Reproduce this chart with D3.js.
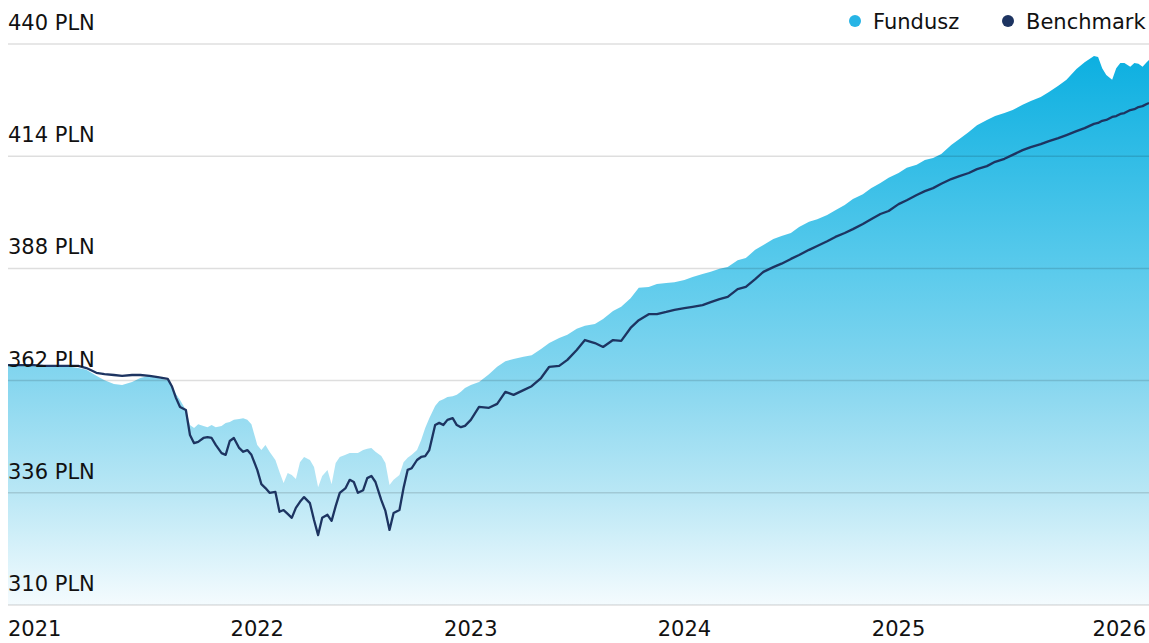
<!DOCTYPE html>
<html>
<head>
<meta charset="utf-8">
<script src="https://cdn.jsdelivr.net/npm/d3@7"></script>
<style>
  html, body { margin: 0; padding: 0; background: #fff; }
  svg { display: block; font-family: "DejaVu Sans", sans-serif; }
</style>
</head>
<body>
<svg id="chart"></svg>
<script>
const dates = [
  "2020-11-01","2020-11-15","2020-12-01","2020-12-15",
  "2021-01-01","2021-01-15","2021-02-01","2021-02-15","2021-03-01","2021-03-15",
  "2021-04-01","2021-04-15","2021-05-01","2021-05-15","2021-06-01","2021-06-15",
  "2021-07-01","2021-07-15",
  "2021-08-01","2021-08-08","2021-08-15","2021-08-22","2021-09-01","2021-09-08","2021-09-15","2021-09-22",
  "2021-10-01","2021-10-08","2021-10-15","2021-10-22","2021-11-01","2021-11-08","2021-11-15","2021-11-22",
  "2021-12-01","2021-12-08","2021-12-15","2021-12-22",
  "2022-01-01","2022-01-08","2022-01-15","2022-01-22","2022-02-01","2022-02-08","2022-02-15","2022-02-22",
  "2022-03-01","2022-03-08","2022-03-15","2022-03-22","2022-04-01","2022-04-08","2022-04-15","2022-04-22",
  "2022-05-01","2022-05-08","2022-05-15","2022-05-22","2022-06-01","2022-06-08","2022-06-15","2022-06-22",
  "2022-07-01","2022-07-08","2022-07-15","2022-07-22","2022-08-01","2022-08-08","2022-08-15","2022-08-22",
  "2022-09-01","2022-09-08","2022-09-15","2022-09-22","2022-10-01","2022-10-08","2022-10-15","2022-10-22",
  "2022-11-01","2022-11-08","2022-11-15","2022-11-22","2022-12-01","2022-12-08","2022-12-15","2022-12-22",
  "2023-01-01","2023-01-15","2023-02-01","2023-02-15","2023-03-01","2023-03-15","2023-04-01","2023-04-15",
  "2023-05-01","2023-05-15","2023-06-01","2023-06-15","2023-07-01","2023-07-15","2023-08-01","2023-08-15",
  "2023-09-01","2023-09-15","2023-10-01","2023-10-15","2023-11-01","2023-11-15","2023-12-01","2023-12-15",
  "2024-01-01","2024-01-15","2024-02-01","2024-02-15","2024-03-01","2024-03-15","2024-04-01","2024-04-15",
  "2024-05-01","2024-05-15","2024-06-01","2024-06-15","2024-07-01","2024-07-15","2024-08-01","2024-08-15",
  "2024-09-01","2024-09-15","2024-10-01","2024-10-15","2024-11-01","2024-11-15","2024-12-01","2024-12-15",
  "2025-01-01","2025-01-15","2025-02-01","2025-02-15","2025-03-01","2025-03-15","2025-04-01","2025-04-15",
  "2025-05-01","2025-05-15","2025-06-01","2025-06-15","2025-07-01","2025-07-15","2025-08-01","2025-08-15",
  "2025-09-01","2025-09-15","2025-10-01","2025-10-15","2025-11-01","2025-11-15",
  "2025-12-01","2025-12-08","2025-12-15","2025-12-22",
  "2026-01-01","2026-01-08","2026-01-15","2026-01-22","2026-02-01","2026-02-08","2026-02-15","2026-02-22",
  "2026-03-01","2026-03-05"
];

// Fundusz (area)
const fundusz = [
  365.6,365.6,365.4,365.4,
  365.2,365.2,365.2,365.2,364.9,364.5,
  363.1,362.1,361.2,361.0,361.7,362.6,
  363.1,362.6,
  362.1,360.7,358.9,357.5,355.2,351.7,351.0,351.9,
  351.5,351.2,351.7,351.2,351.5,352.2,352.4,352.9,
  353.1,353.3,352.9,351.9,
  347.1,345.9,347.1,345.5,343.6,340.8,338.3,340.6,
  340.1,339.2,343.1,344.3,343.6,342.0,337.3,339.9,
  341.3,338.0,342.9,344.3,344.8,345.2,345.2,345.2,
  345.9,346.2,346.4,345.5,344.5,342.9,337.8,339.0,
  340.1,343.1,344.1,344.8,345.9,348.2,351.0,353.3,
  356.1,357.3,357.7,358.2,358.4,358.7,359.4,360.3,
  361.0,361.7,363.5,365.2,366.5,367.0,367.5,367.9,
  369.3,370.7,371.9,372.6,374.0,374.7,375.1,376.3,
  378.1,379.1,381.1,383.5,383.7,384.4,384.6,384.8,
  385.3,386.0,386.7,387.2,387.9,388.3,389.9,390.4,
  392.3,393.4,394.8,395.5,396.2,397.6,398.8,399.4,
  400.4,401.5,402.7,404.1,405.2,406.6,407.8,409.0,
  410.1,411.3,412.0,413.1,413.6,414.5,416.6,418.0,
  419.6,421.2,422.4,423.3,424.0,424.7,425.9,426.8,
  427.7,428.9,430.3,431.7,434.2,435.8,
  437.2,437.0,434.4,432.8,
  431.7,434.4,435.6,435.6,434.7,435.6,435.4,434.7,
  435.8,436.3
];

// Benchmark (line)
const benchmark = [
  365.6,365.6,365.6,365.6,
  365.4,365.4,365.4,365.4,365.4,364.9,
  363.8,363.5,363.3,363.1,363.3,363.3,
  363.1,362.8,
  362.4,360.7,358.0,355.9,355.2,349.4,347.5,347.8,
  348.7,348.9,348.7,347.1,345.2,344.8,348.0,348.7,
  346.4,345.5,345.9,344.8,
  341.3,338.0,337.1,336.0,336.2,331.6,332.0,331.1,
  330.2,332.5,333.9,335.0,333.6,329.7,326.2,330.2,
  330.9,329.5,332.9,336.0,337.1,339.0,338.5,336.0,
  336.6,339.4,339.9,338.5,334.3,331.8,327.4,331.3,
  332.0,337.1,341.3,341.7,343.6,344.3,344.5,345.9,
  351.7,352.2,351.7,352.9,353.3,351.7,351.2,351.5,
  352.9,355.9,355.7,356.6,359.4,358.7,359.8,360.7,
  362.6,365.2,365.4,366.8,369.1,371.4,370.7,369.8,
  371.4,371.2,374.2,376.0,377.4,377.4,377.9,378.4,
  378.8,379.1,379.5,380.2,380.9,381.4,383.2,383.7,
  385.5,387.2,388.3,389.1,390.2,391.1,392.3,393.2,
  394.3,395.3,396.2,397.1,398.3,399.4,400.6,401.3,
  402.9,403.8,405.0,405.9,406.6,407.6,408.7,409.4,
  410.1,411.0,411.7,412.7,413.4,414.3,415.4,416.1,
  416.8,417.5,418.2,418.9,419.8,420.5,
  421.5,421.7,422.2,422.4,
  423.1,423.3,423.8,424.0,424.7,424.9,425.4,425.6,
  426.1,426.3
];

const yTicks = [310, 336, 362, 388, 414, 440];
const xTickYears = [2021, 2022, 2023, 2024, 2025, 2026];
const seriesNames = ["Fundusz", "Benchmark"];
const seriesColors = ["#27b4e5", "#1d3461"];

const width = 1149;
const height = 643;
const margin = { top: 44, right: 0, bottom: 38, left: 8 };

const parse = d3.timeParse("%Y-%m-%d");
const data = dates.map((d, i) => ({ date: parse(d), fund: fundusz[i], bench: benchmark[i] }));

const svg = d3.select("#chart")
  .attr("width", width)
  .attr("height", height);

const x = d3.scaleTime()
  .domain(d3.extent(data, d => d.date))
  .range([margin.left, width - margin.right]);

const y = d3.scaleLinear()
  .domain([310, 440])
  .range([height - margin.bottom, margin.top]);

// gradient for the fund area
const grad = svg.append("defs").append("linearGradient")
  .attr("id", "fundGrad")
  .attr("gradientUnits", "userSpaceOnUse")
  .attr("x1", 0).attr("x2", 0)
  .attr("y1", y(440)).attr("y2", y(310));
[[0, "#08aee0"], [0.41, "#5ccbec"], [0.6, "#86d6ef"], [0.8, "#b9e7f5"], [1, "#f4fbfe"]]
  .forEach(([o, c]) => grad.append("stop").attr("offset", o).attr("stop-color", c));

const area = d3.area()
  .x(d => x(d.date))
  .y0(y(310))
  .y1(d => y(d.fund));

svg.append("path")
  .datum(data)
  .attr("fill", "url(#fundGrad)")
  .attr("d", area);

// grid lines on top of the area
svg.append("g")
  .selectAll("line")
  .data(yTicks)
  .join("line")
    .attr("x1", margin.left)
    .attr("x2", width)
    .attr("y1", d => y(d))
    .attr("y2", d => y(d))
    .attr("stroke", "rgba(0,0,0,0.13)")
    .attr("stroke-width", 1.5);

const line = d3.line()
  .x(d => x(d.date))
  .y(d => y(d.bench));

svg.append("path")
  .datum(data)
  .attr("fill", "none")
  .attr("stroke", seriesColors[1])
  .attr("stroke-width", 2.3)
  .attr("stroke-linejoin", "round")
  .attr("d", line);

// y labels
svg.append("g")
  .selectAll("text")
  .data(yTicks)
  .join("text")
    .attr("x", margin.left)
    .attr("y", d => y(d) - 14)
    .attr("font-size", 21)
    .attr("fill", "#111")
    .text(d => d + " PLN");

// x labels: first one left-aligned, last one right-aligned, others centred
const xLabels = svg.append("g")
  .selectAll("text")
  .data(xTickYears)
  .join("text")
    .attr("y", 636)
    .attr("font-size", 21)
    .attr("fill", "#111")
    .text(d => d);

xLabels.each(function(d, i) {
  const w = this.getComputedTextLength();
  let left = x(new Date(d, 0, 1)) - w / 2;
  if (i === 0) left = margin.left;
  if (i === xTickYears.length - 1) left = 1146 - w;
  d3.select(this).attr("x", left);
});

// legend
const legend = svg.append("g");
const legendX = [855, 1008];
seriesNames.forEach((name, i) => {
  legend.append("circle")
    .attr("cx", legendX[i])
    .attr("cy", 21)
    .attr("r", 6)
    .attr("fill", seriesColors[i]);
  legend.append("text")
    .attr("x", legendX[i] + 18)
    .attr("y", 29)
    .attr("font-size", 21)
    .attr("fill", "#111")
    .text(name);
});
</script>
</body>
</html>
